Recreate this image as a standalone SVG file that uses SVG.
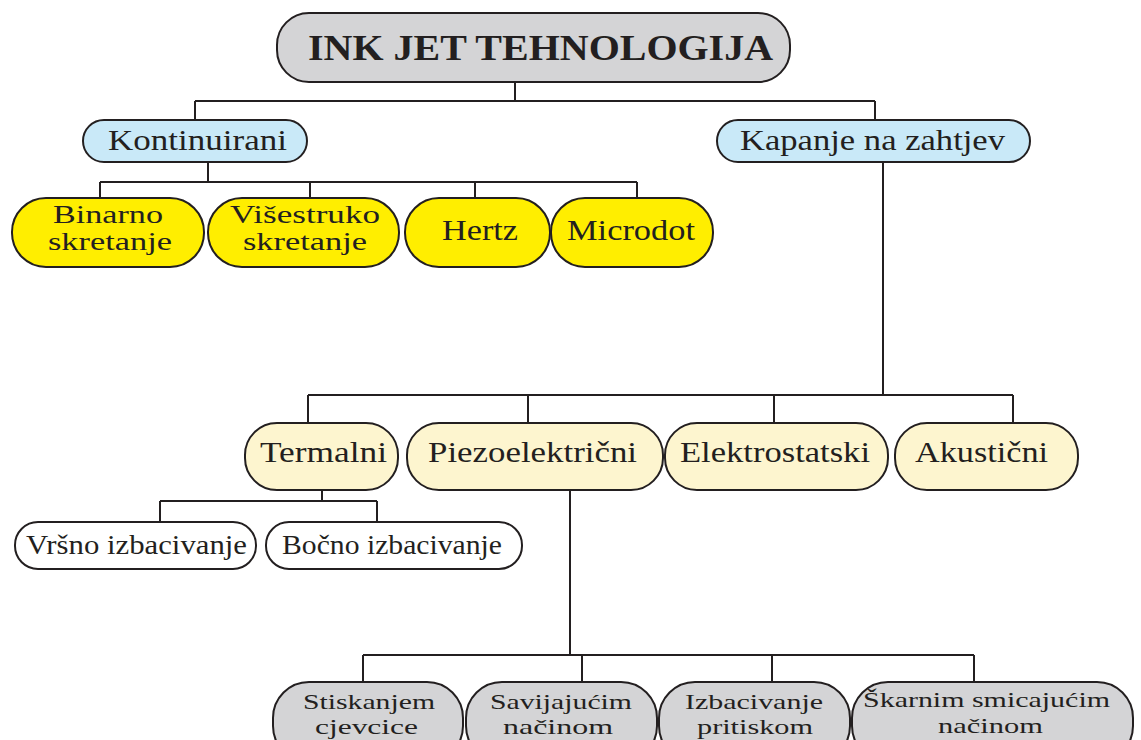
<svg xmlns="http://www.w3.org/2000/svg" width="1141" height="740" viewBox="0 0 1141 740">
<style>
.n{stroke:#231f20;stroke-width:2}
.g{fill:#d4d4d6}
.b{fill:#c9e9f8}
.y{fill:#ffee00}
.l{fill:#fdf5cf}
.w{fill:#ffffff}
.c{fill:none;stroke:#231f20;stroke-width:2}
text{font-family:"Liberation Serif","Times New Roman",serif;fill:#231f20}
.t1{font-size:36px;font-weight:bold}
.t2{font-size:29px}
.t2b{font-size:25px}
.t3{font-size:27px}
.t4{font-size:22px}
</style>
<rect width="1141" height="740" fill="#ffffff"/>
<g id="connectors">
<path class="c" d="M515,83 V101 M195,101 H875 M195,101 V120 M875,101 V120"/>
<path class="c" d="M208,162 V182 M100,182 H637 M100,182 V198 M310,182 V198 M475,182 V198 M637,182 V198"/>
<path class="c" d="M883,162 V395 M308,395 H1013 M308,395 V423 M528,395 V423 M774,395 V423 M1013,395 V423"/>
<path class="c" d="M322,490 V501 M160,501 H377 M160,501 V522 M377,501 V522"/>
<path class="c" d="M570,490 V655 M363,655 H974 M363,655 V682 M582,655 V682 M772,655 V682 M974,655 V682"/>
</g>
<g id="n-title"><rect class="n g" x="277" y="13" width="513" height="69" rx="32"/><text class="t1" x="308" y="60" textLength="465" lengthAdjust="spacingAndGlyphs">INK JET TEHNOLOGIJA</text></g>
<g id="n-kontinuirani"><rect class="n b" x="83" y="120" width="224" height="42" rx="21"/><text class="t2" x="108" y="150" textLength="179" lengthAdjust="spacingAndGlyphs">Kontinuirani</text></g>
<g id="n-kapanje"><rect class="n b" x="717" y="120" width="313" height="42" rx="21"/><text class="t2" x="740" y="150" textLength="265" lengthAdjust="spacingAndGlyphs">Kapanje na zahtjev</text></g>
<g id="n-binarno"><rect class="n y" x="12" y="198" width="192" height="69" rx="34"/><text class="t2b" x="53" y="223" textLength="110" lengthAdjust="spacingAndGlyphs">Binarno</text><text class="t2b" x="48" y="250" textLength="124" lengthAdjust="spacingAndGlyphs">skretanje</text></g>
<g id="n-visestruko"><rect class="n y" x="208" y="198" width="191" height="69" rx="34"/><text class="t2b" x="230" y="223" textLength="150" lengthAdjust="spacingAndGlyphs">Višestruko</text><text class="t2b" x="243" y="250" textLength="124" lengthAdjust="spacingAndGlyphs">skretanje</text></g>
<g id="n-hertz"><rect class="n y" x="405" y="198" width="145" height="69" rx="34"/><text class="t2" x="442" y="240" textLength="76" lengthAdjust="spacingAndGlyphs">Hertz</text></g>
<g id="n-microdot"><rect class="n y" x="551" y="198" width="162" height="69" rx="34"/><text class="t2" x="567" y="240" textLength="128" lengthAdjust="spacingAndGlyphs">Microdot</text></g>
<g id="n-termalni"><rect class="n l" x="245" y="423" width="153" height="67" rx="32"/><text class="t2" x="260" y="462" textLength="127" lengthAdjust="spacingAndGlyphs">Termalni</text></g>
<g id="n-piezo"><rect class="n l" x="407" y="423" width="256" height="67" rx="32"/><text class="t2" x="428" y="462" textLength="209" lengthAdjust="spacingAndGlyphs">Piezoelektrični</text></g>
<g id="n-elektro"><rect class="n l" x="665" y="423" width="223" height="67" rx="32"/><text class="t2" x="680" y="462" textLength="190" lengthAdjust="spacingAndGlyphs">Elektrostatski</text></g>
<g id="n-akusticni"><rect class="n l" x="895" y="423" width="183" height="67" rx="32"/><text class="t2" x="915" y="462" textLength="133" lengthAdjust="spacingAndGlyphs">Akustični</text></g>
<g id="n-vrsno"><rect class="n w" x="15" y="522" width="241" height="47" rx="23"/><text class="t3" x="26" y="554" textLength="221" lengthAdjust="spacingAndGlyphs">Vršno izbacivanje</text></g>
<g id="n-bocno"><rect class="n w" x="266" y="522" width="256" height="47" rx="23"/><text class="t3" x="282" y="554" textLength="220" lengthAdjust="spacingAndGlyphs">Bočno izbacivanje</text></g>
<g id="n-stiskanjem"><rect class="n g" x="273" y="682" width="190" height="80" rx="36"/><text class="t4" x="303" y="709" textLength="132" lengthAdjust="spacingAndGlyphs">Stiskanjem</text><text class="t4" x="315" y="734" textLength="103" lengthAdjust="spacingAndGlyphs">cjevcice</text></g>
<g id="n-savijajucim"><rect class="n g" x="466" y="682" width="191" height="80" rx="36"/><text class="t4" x="490" y="709" textLength="142" lengthAdjust="spacingAndGlyphs">Savijajućim</text><text class="t4" x="503" y="734" textLength="110" lengthAdjust="spacingAndGlyphs">načinom</text></g>
<g id="n-izbacivanje"><rect class="n g" x="659" y="682" width="191" height="80" rx="36"/><text class="t4" x="685" y="709" textLength="138" lengthAdjust="spacingAndGlyphs">Izbacivanje</text><text class="t4" x="697" y="734" textLength="116" lengthAdjust="spacingAndGlyphs">pritiskom</text></g>
<g id="n-skarnim"><rect class="n g" x="852" y="682" width="281" height="80" rx="36"/><text class="t4" x="863" y="707" textLength="247" lengthAdjust="spacingAndGlyphs">Škarnim smicajućim</text><text class="t4" x="938" y="733" textLength="105" lengthAdjust="spacingAndGlyphs">načinom</text></g>
</svg>
